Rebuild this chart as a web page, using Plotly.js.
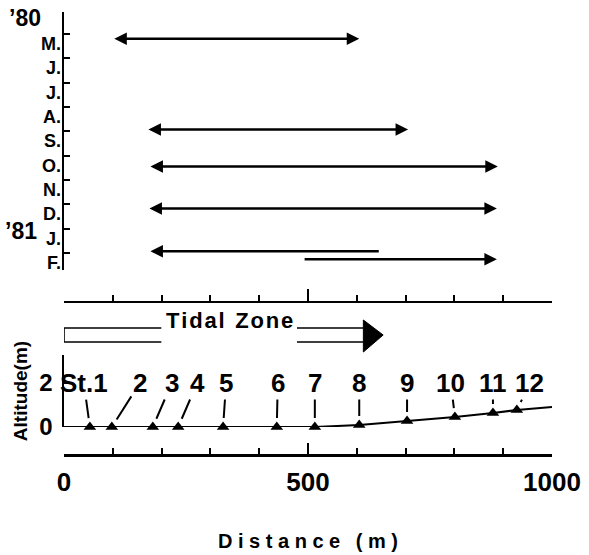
<!DOCTYPE html>
<html>
<head>
<meta charset="utf-8">
<script src="https://cdn.plot.ly/plotly-3.0.1.min.js"></script>
<style>html,body{margin:0;padding:0;background:#fff;}#chart{width:589px;height:555px;}</style>
</head>
<body>
<div id="chart"></div>
<script>
// ---- data ----
var months = ['M.', 'J.', 'J.', 'A.', 'S.', 'O.', 'N.', 'D.', 'J.', 'F.'];
var years = ["’80", "’81"];
var yearRow = [-0.65, 8.1];

// sampling ranges (distance, m) by month row
var rangeRow  = [0.2, 3.93, 5.45, 7.17, 8.93, 9.26];
var rangeFrom = [100, 170, 174, 172, 174, 490];
var rangeTo   = [605, 705, 889, 887, 645, 887];
var rangeSide = ['end+start', 'end+start', 'end+start', 'end+start', 'start', 'end'];

// stations
var stationName = ['St.1', '2', '3', '4', '5', '6', '7', '8', '9', '10', '11', '12'];
var stationDist = [53, 98, 182, 234, 326, 436, 514, 605, 703, 801, 879, 928];
var stationAlt  = [0, 0, 0, 0, 0, 0, 0, 0.09, 0.27, 0.45, 0.64, 0.77];
// ground profile
var profileDist = [0, 53, 98, 182, 234, 326, 436, 514, 605, 703, 801, 879, 928, 1000];
var profileAlt  = [0, 0, 0, 0, 0, 0, 0, 0, 0.09, 0.27, 0.45, 0.64, 0.77, 0.91];

var tidalZone = [0, 654];

// ---- label placement (pixel offsets of station labels) ----
var labelDX = [-6, 28, 19, 19, 3, 1, 0, 0, 0, -4, 0, 13];
var labelDY = [-44, -44, -44, -44, -44, -44, -44, -42, -38, -34, -30, -27];

var FONT = 'Liberation Sans, Arial, Helvetica, sans-serif';
var K = '#000';

var traces = [];
// invisible trace establishing the top subplot (x2, y)
traces.push({
  type: 'scatter', mode: 'markers', x: rangeFrom, y: rangeRow,
  xaxis: 'x2', yaxis: 'y', marker: {opacity: 0}, hoverinfo: 'skip', showlegend: false
});
traces.push({
  type: 'scatter', mode: 'lines', x: profileDist, y: profileAlt,
  xaxis: 'x', yaxis: 'y2', line: {color: K, width: 2}, cliponaxis: false,
  hoverinfo: 'skip', showlegend: false
});
traces.push({
  type: 'scatter', mode: 'markers', x: stationDist, y: stationAlt,
  xaxis: 'x', yaxis: 'y2', cliponaxis: false,
  marker: {symbol: 'triangle-up', size: 11, color: K}, showlegend: false
});

var annotations = [];
for (var i = 0; i < rangeRow.length; i++) {
  annotations.push({
    xref: 'x2', yref: 'y', axref: 'x2', ayref: 'y',
    x: rangeTo[i], y: rangeRow[i], ax: rangeFrom[i], ay: rangeRow[i],
    text: '', showarrow: true, arrowside: rangeSide[i],
    arrowhead: 2, startarrowhead: 2, arrowsize: 1, startarrowsize: 1,
    arrowwidth: 2.5, arrowcolor: K
  });
}
for (var j = 0; j < stationName.length; j++) {
  annotations.push({
    xref: 'x', yref: 'y2', x: stationDist[j], y: stationAlt[j],
    ax: labelDX[j], ay: labelDY[j], text: stationName[j],
    showarrow: true, arrowhead: 0, arrowwidth: 2, arrowcolor: K, standoff: 9,
    font: {family: FONT, size: 26, color: K, weight: 'bold'}
  });
}
annotations.push({
  xref: 'paper', yref: 'y', x: -0.08, y: yearRow[0], xanchor: 'center', text: years[0], showarrow: false,
  font: {family: FONT, size: 23, color: K, weight: 'bold'}
});
annotations.push({
  xref: 'paper', yref: 'y', x: -0.088, y: yearRow[1], xanchor: 'center', text: years[1], showarrow: false,
  font: {family: FONT, size: 23, color: K, weight: 'bold'}
});
annotations.push({
  xref: 'x', yref: 'paper', x: (tidalZone[0] + tidalZone[1]) * 0.52, y: 0.2637,
  text: 'T\u200Ai\u200Ad\u200Aa\u200Al\u2009 Z\u200Ao\u200An\u200Ae', showarrow: false,
  font: {family: FONT, size: 22, color: K, weight: 'bold'}
});

// hollow Tidal Zone arrow
var z0 = tidalZone[0], z1 = tidalZone[1];
var span = z1 - z0;
var gapA = z0 + span * 0.305, gapB = z0 + span * 0.73, headBase = z1 - span * 0.062;
var yT = 0.2791, yB = 0.2484, hT = 0.2967, hB = 0.2264, yM = 0.2637;
var shapes = [
  {type: 'path', xref: 'x', yref: 'paper',
   path: 'M' + gapA + ',' + yT + ' L' + z0 + ',' + yT + ' L' + z0 + ',' + yB + ' L' + gapA + ',' + yB,
   line: {color: K, width: 1.6}},
  {type: 'path', xref: 'x', yref: 'paper',
   path: 'M' + gapB + ',' + yT + ' L' + headBase + ',' + yT + ' M' + gapB + ',' + yB + ' L' + headBase + ',' + yB,
   line: {color: K, width: 1.6}},
  {type: 'path', xref: 'x', yref: 'paper',
   path: 'M' + headBase + ',' + hT + ' L' + z1 + ',' + yM + ' L' + headBase + ',' + hB + ' Z',
   fillcolor: K, line: {color: K, width: 1}}
];

var layout = {
  width: 589, height: 555,
  margin: {l: 64, r: 37, t: 0, b: 100},
  paper_bgcolor: '#fff', plot_bgcolor: 'rgba(0,0,0,0)',
  showlegend: false,
  font: {family: FONT, color: K},
  xaxis: {
    range: [0, 1000], anchor: 'free', position: 0,
    showline: true, linecolor: K, linewidth: 2.5,
    tickmode: 'array', tickvals: [0, 500, 1000], ticktext: ['0', '500', '1000'],
    ticks: 'inside', ticklen: 11, tickwidth: 2, tickcolor: K,
    minor: {tickmode: 'linear', tick0: 0, dtick: 100, ticks: 'inside', ticklen: 6, tickwidth: 2, tickcolor: K},
    tickfont: {family: FONT, size: 26, color: K, weight: 'bold'},
    ticklabelstandoff: 3,
    showgrid: false, zeroline: false,
    title: {text: 'D i s t a n c e\u2002 ( m )', standoff: 38,
            font: {family: FONT, size: 20, color: K, weight: 'bold'}}
  },
  xaxis2: {
    matches: 'x', overlaying: 'x', anchor: 'free', position: 0.3363,
    showline: true, linecolor: K, linewidth: 2.5,
    tickmode: 'array', tickvals: [500, 1000],
    ticks: 'inside', ticklen: 12, tickwidth: 2, tickcolor: K,
    minor: {tickmode: 'linear', tick0: 0, dtick: 100, ticks: 'inside', ticklen: 6, tickwidth: 2, tickcolor: K},
    showticklabels: false, showgrid: false, zeroline: false
  },
  yaxis: {
    domain: [0.4066, 0.9736], range: [9.7, -0.9], anchor: 'x2',
    showline: true, linecolor: K, linewidth: 2.5,
    tickmode: 'array', tickvals: months.map(function (m, k) { return k + 0.4; }), ticktext: months,
    ticks: '',
    minor: {tickmode: 'array', tickvals: months.map(function (m, k) { return k; }), ticks: 'inside', ticklen: 6, tickwidth: 2, tickcolor: K},
    tickfont: {family: FONT, size: 18, color: K, weight: 'bold'},
    ticklabelstandoff: -3,
    showgrid: false, zeroline: false
  },
  yaxis2: {
    domain: [0.0615, 0.2198], range: [0, 3.27], anchor: 'x',
    showline: true, linecolor: K, linewidth: 2.5,
    tickmode: 'array', tickvals: [0, 2], ticktext: ['0', '2'],
    ticks: 'inside', ticklen: 6, tickwidth: 2, tickcolor: K,
    tickfont: {family: FONT, size: 24, color: K, weight: 'bold'},
    ticklabelstandoff: 4,
    showgrid: false, zeroline: false,
    title: {text: 'Altitude(m)', standoff: 7, font: {family: FONT, size: 19, color: K, weight: 'bold'}}
  },
  annotations: annotations,
  shapes: shapes
};

Plotly.newPlot('chart', traces, layout, {staticPlot: true, displayModeBar: false});
</script>
</body>
</html>
